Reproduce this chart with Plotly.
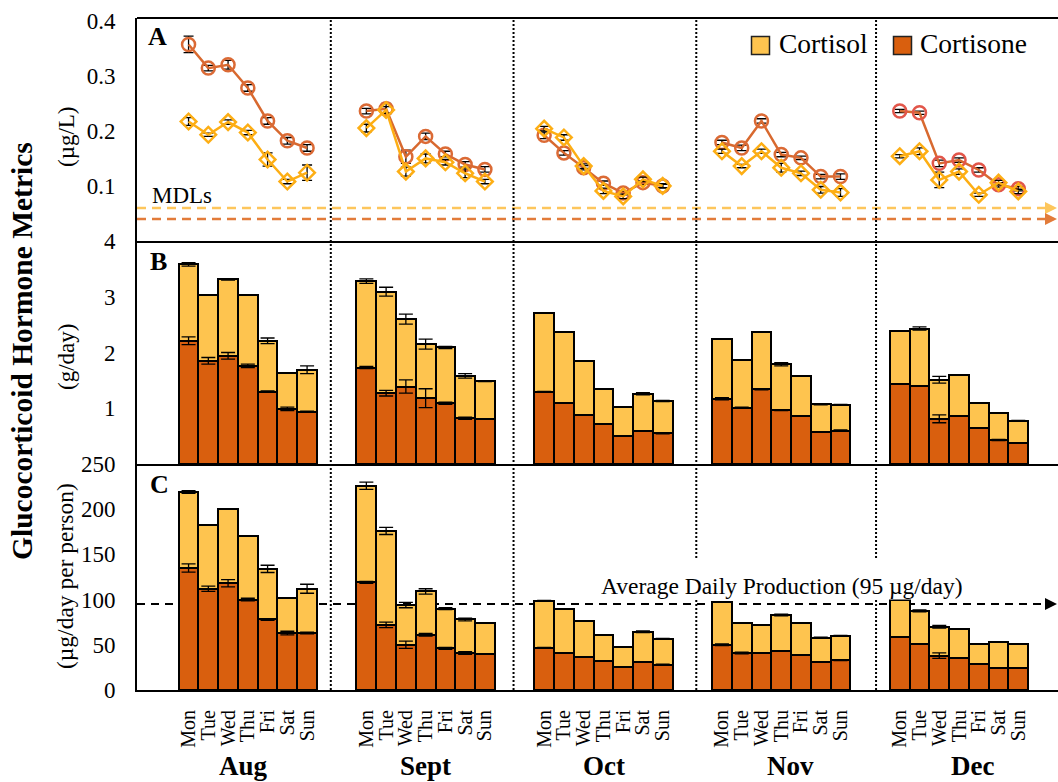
import plotly.graph_objects as go
from plotly.subplots import make_subplots

MONTHS = ["Aug", "Sept", "Oct", "Nov", "Dec"]
DAYS = ["Mon", "Tue", "Wed", "Thu", "Fri", "Sat", "Sun"]

# Panel A: concentrations (µg/L), one row per month, Mon..Sun
CORTISOL_UGL = [
    [0.217, 0.193, 0.216, 0.197, 0.148, 0.108, 0.124],
    [0.205, 0.238, 0.126, 0.150, 0.143, 0.123, 0.108],
    [0.204, 0.188, 0.136, 0.091, 0.081, 0.112, 0.100],
    [0.163, 0.136, 0.163, 0.133, 0.123, 0.093, 0.088],
    [0.154, 0.163, 0.111, 0.126, 0.084, 0.106, 0.090],
]
CORTISOL_UGL_ERR = [
    [0.007, 0.003, 0.004, 0.004, 0.012, 0.004, 0.014],
    [0.007, 0.006, 0.008, 0.008, 0.005, 0.008, 0.004],
    [0.004, 0.005, 0.004, 0.005, 0.004, 0.004, 0.003],
    [0.004, 0.003, 0.004, 0.008, 0.004, 0.006, 0.007],
    [0.003, 0.006, 0.014, 0.005, 0.003, 0.004, 0.004],
]
CORTISONE_UGL = [
    [0.357, 0.314, 0.320, 0.278, 0.218, 0.182, 0.169],
    [0.236, 0.240, 0.153, 0.190, 0.158, 0.139, 0.130],
    [0.192, 0.160, 0.133, 0.105, 0.087, 0.106, 0.100],
    [0.179, 0.169, 0.218, 0.157, 0.151, 0.117, 0.117],
    [0.236, 0.233, 0.141, 0.147, 0.129, 0.102, 0.095],
]
CORTISONE_UGL_ERR = [
    [0.015, 0.005, 0.008, 0.006, 0.006, 0.006, 0.006],
    [0.005, 0.010, 0.012, 0.006, 0.005, 0.005, 0.005],
    [0.006, 0.004, 0.004, 0.004, 0.003, 0.003, 0.004],
    [0.004, 0.005, 0.004, 0.004, 0.003, 0.004, 0.005],
    [0.003, 0.003, 0.006, 0.004, 0.004, 0.004, 0.004],
]
MDL_CORTISOL = 0.06
MDL_CORTISONE = 0.04

# Panel B: mass loads (g/day)
CORTISONE_GDAY = [
    [2.21, 1.85, 1.94, 1.76, 1.30, 0.99, 0.94],
    [1.73, 1.27, 1.39, 1.18, 1.09, 0.82, 0.80],
    [1.30, 1.09, 0.88, 0.72, 0.50, 0.60, 0.55],
    [1.17, 1.01, 1.34, 0.96, 0.86, 0.58, 0.60],
    [1.43, 1.40, 0.81, 0.86, 0.65, 0.43, 0.37],
]
CORTISOL_GDAY = [
    [1.37, 1.18, 1.37, 1.27, 0.91, 0.64, 0.75],
    [1.55, 1.82, 1.21, 0.97, 1.00, 0.76, 0.68],
    [1.41, 1.27, 0.97, 0.62, 0.52, 0.66, 0.58],
    [1.07, 0.86, 1.02, 0.83, 0.71, 0.49, 0.46],
    [0.96, 1.03, 0.70, 0.74, 0.44, 0.48, 0.41],
]
CORTISONE_GDAY_ERR = [
    [0.07, 0.06, 0.06, 0.03, 0.01, 0.03, 0.01],
    [0.02, 0.05, 0.12, 0.17, 0.02, 0.02, 0.00],
    [0.00, 0.00, 0.00, 0.00, 0.00, 0.00, 0.01],
    [0.02, 0.01, 0.01, 0.00, 0.00, 0.00, 0.01],
    [0.00, 0.00, 0.07, 0.00, 0.00, 0.01, 0.00],
]
TOTAL_GDAY_ERR = [
    [0.03, 0.00, 0.01, 0.00, 0.05, 0.00, 0.07],
    [0.04, 0.08, 0.09, 0.09, 0.02, 0.04, 0.00],
    [0.00, 0.00, 0.00, 0.00, 0.00, 0.02, 0.01],
    [0.00, 0.00, 0.00, 0.03, 0.00, 0.01, 0.01],
    [0.00, 0.03, 0.06, 0.00, 0.00, 0.00, 0.00],
]

# Panel C: per-capita loads (µg/day per person)
CORTISONE_PC = [
    [135, 112, 118, 100, 78, 63, 63],
    [119, 72, 50, 61, 46, 41, 40],
    [47, 41, 36, 32, 25, 31, 28],
    [50, 41, 41, 43, 39, 31, 33],
    [59, 50.5, 38, 35, 29, 24, 24],
]
CORTISOL_PC = [
    [84, 71, 82, 70, 56, 39, 49],
    [107, 104, 44, 48, 44, 37, 34.5],
    [52, 49, 40, 29, 23, 33.5, 28.5],
    [47, 33, 31, 40, 35, 27, 27],
    [41, 37, 32, 32.5, 21.5, 29, 26.5],
]
CORTISONE_PC_ERR = [
    [4.5, 3, 4, 1.5, 1, 2, 1],
    [1, 3, 4, 1.5, 1, 1.5, 0],
    [0, 0, 0, 0, 0, 0, 0.5],
    [1, 1, 0, 0, 0, 0, 0.5],
    [0, 0, 3, 0, 0, 0, 0],
]
TOTAL_PC_ERR = [
    [1.5, 0, 0, 0, 4, 0, 5],
    [4, 4, 3, 3, 1, 1.5, 0],
    [0, 0, 0, 0, 0, 1, 0.5],
    [0, 0, 0, 1, 0, 0.5, 0.5],
    [0, 1, 1.5, 0, 0, 0, 0],
]
AVG_PRODUCTION = 95  # µg/day

# ---- styling ----
FONT = "Liberation Serif"
C_CORTISOL = "#FEC44F"
C_CORTISONE = "#D95F0E"
L_CORTISOL = "#FDAE14"
L_CORTISONE = "#D8692F"
M_CORTISONE = ["#DB6A35"] * 4 + ["#E2564A"]
MDL_C1 = "#FDC65C"
MDL_C2 = "#E27B3A"

LEAD_SLOTS = 2       # empty slots before the first month
MONTH_SLOTS = 9      # 7 days + 2 spacer slots
X_RANGE = [-0.11, 46.51]
SEPARATORS = [9.7, 18.95, 28.2, 37.3]

# plot-area pixel box used for placing text
PL, PR, PT, PB = 137, 1058, 18, 690


def px(x):
    return (x - PL) / (PR - PL)


def py(y):
    return (PB - y) / (PB - PT)


def xpos(m, d):
    return LEAD_SLOTS + m * MONTH_SLOTS + d + 0.5


def flat(rows):
    return [v for r in rows for v in r]


XS = [xpos(m, d) for m in range(len(MONTHS)) for d in range(len(DAYS))]

fig = make_subplots(rows=3, cols=1, shared_xaxes=True, vertical_spacing=0)

# ---- Panel A: lines with markers, broken between months ----
def gapped(rows):
    out = []
    for r in rows:
        out.extend(r)
        out.append(None)
    return out

XS_GAP = []
for m in range(len(MONTHS)):
    XS_GAP.extend(xpos(m, d) for d in range(len(DAYS)))
    XS_GAP.append(None)

err_style = dict(type="data", color="black", thickness=1.3, width=5)

fig.add_trace(go.Scatter(
    x=XS_GAP, y=gapped(CORTISONE_UGL), mode="lines+markers",
    line=dict(color=L_CORTISONE, width=2.5),
    marker=dict(symbol="circle-open", size=13,
                color=[c for m in range(5) for c in [M_CORTISONE[m]] * 7 + [M_CORTISONE[m]]],
                line=dict(width=2.5)),
    error_y=dict(array=gapped(CORTISONE_UGL_ERR), **err_style),
    showlegend=False, connectgaps=False, hoverinfo="skip"), row=1, col=1)

fig.add_trace(go.Scatter(
    x=XS_GAP, y=gapped(CORTISOL_UGL), mode="lines+markers",
    line=dict(color=L_CORTISOL, width=2.5),
    marker=dict(symbol="diamond-open", size=12, color=L_CORTISOL,
                line=dict(width=2.5)),
    error_y=dict(array=gapped(CORTISOL_UGL_ERR), **err_style),
    showlegend=False, connectgaps=False, hoverinfo="skip"), row=1, col=1)

# ---- Panels B and C: stacked bars ----
bar_line = dict(color="black", width=2)
for row, base, top, base_err, top_err in [
    (2, CORTISONE_GDAY, CORTISOL_GDAY, CORTISONE_GDAY_ERR, TOTAL_GDAY_ERR),
    (3, CORTISONE_PC, CORTISOL_PC, CORTISONE_PC_ERR, TOTAL_PC_ERR),
]:
    b = flat(base)
    t = flat(top)
    fig.add_trace(go.Bar(x=XS, y=b, width=1, marker=dict(color=C_CORTISONE, line=bar_line),
                         showlegend=False, hoverinfo="skip"), row=row, col=1)
    fig.add_trace(go.Bar(x=XS, y=t, width=1, marker=dict(color=C_CORTISOL, line=bar_line),
                         showlegend=False, hoverinfo="skip"), row=row, col=1)
    totals = [bv + tv for bv, tv in zip(b, t)]
    for ys, es in [(b, flat(base_err)), (totals, flat(top_err))]:
        fig.add_trace(go.Scatter(
            x=XS, y=ys, mode="markers", marker=dict(size=1, color="rgba(0,0,0,0)"),
            error_y=dict(array=es, type="data", color="black", thickness=1.3, width=7),
            showlegend=False, hoverinfo="skip"), row=row, col=1)

fig.update_layout(barmode="stack", bargap=0)

# ---- axes ----
tickfont = dict(family=FONT, size=23, color="black")
axis_common = dict(showgrid=False, zeroline=False, showline=True, linecolor="black",
                   linewidth=2, ticks="")
for r in (1, 2, 3):
    fig.update_xaxes(range=X_RANGE, row=r, col=1, tickvals=XS, ticktext=DAYS * len(MONTHS),
                     tickangle=-90, tickfont=dict(family=FONT, size=20, color="black"),
                     showticklabels=(r == 3), ticklabelstandoff=10, **axis_common)

fig.update_yaxes(range=[0, 0.405], tickvals=[0.1, 0.2, 0.3, 0.4], ticktext=["0.1", "0.2", "0.3", "0.4"],
                 tickfont=tickfont, ticklabelstandoff=15, row=1, col=1, **axis_common)
fig.update_yaxes(range=[0, 4], tickvals=[1, 2, 3, 4], tickfont=tickfont, ticklabelstandoff=15,
                 row=2, col=1, **axis_common)
fig.update_yaxes(range=[0, 250], tickvals=[0, 50, 100, 150, 200, 250], tickfont=tickfont,
                 ticklabelstandoff=15, row=3, col=1, **axis_common)

hA = (241 - 18) / (PB - PT)
hB = (464 - 241) / (PB - PT)
fig.update_layout(
    yaxis=dict(domain=[1 - hA, 1]),
    yaxis2=dict(domain=[1 - hA - hB, 1 - hA]),
    yaxis3=dict(domain=[0, 1 - hA - hB]),
)

shapes = []
# top frame line
shapes.append(dict(type="line", xref="paper", yref="paper", x0=0, x1=1, y0=1, y1=1,
                   line=dict(color="black", width=2)))
# month separators
for sx in SEPARATORS:
    shapes.append(dict(type="line", xref="x", yref="paper", x0=sx, x1=sx, y0=0, y1=1,
                       line=dict(color="black", width=2, dash="2px,2px")))
# detection limits
for val, col in [(MDL_CORTISOL, MDL_C1), (MDL_CORTISONE, MDL_C2)]:
    shapes.append(dict(type="line", xref="x domain", yref="y", x0=0, x1=0.995, y0=val, y1=val,
                       line=dict(color=col, width=2.5, dash="9px,6px"), layer="below"))
# average daily production
shapes.append(dict(type="line", xref="x3 domain", yref="y3", x0=0, x1=0.99,
                   y0=AVG_PRODUCTION, y1=AVG_PRODUCTION,
                   line=dict(color="black", width=2, dash="8px,6px"), layer="below"))
# legend swatches
for x0, col in [(751.5, C_CORTISOL), (893.5, C_CORTISONE)]:
    shapes.append(dict(type="rect", xref="paper", yref="paper",
                       x0=px(x0), x1=px(x0 + 18), y0=py(54.5), y1=py(36.5),
                       fillcolor=col, line=dict(color="#222222", width=1.5)))
fig.update_layout(shapes=shapes)

ann = []
def text(x, y, s, size, bold=False, xanchor="center", angle=0, **kw):
    ann.append(dict(xref="paper", yref="paper", x=px(x), y=py(y), text=f"<b>{s}</b>" if bold else s,
                    showarrow=False, xanchor=xanchor, yanchor="middle", textangle=angle,
                    font=dict(family=FONT, size=size, color="black"), **kw))

text(22, 351, "Glucocorticoid Hormone Metrics", 29.5, bold=True, angle=-90)
text(66, 137, "(µg/L)", 23, angle=-90)
text(66, 357, "(g/day)", 23, angle=-90)
text(65, 576, "(µg/day per person)", 23.5, angle=-90)
text(146, 36, "A", 26, bold=True, xanchor="left")
text(148, 261, "B", 26, bold=True, xanchor="left")
text(148, 484, "C", 26, bold=True, xanchor="left")
text(150, 196, "MDLs", 23, xanchor="left")
text(777, 44, "Cortisol", 27.5, xanchor="left")
text(918, 44, "Cortisone", 27.5, xanchor="left")
for name, cx in zip(MONTHS, [243, 425, 603.5, 790.5, 972]):
    text(cx, 766, name, 27, bold=True)

# label box that interrupts the separators
ann.append(dict(xref="paper", yref="paper", x=px(782), y=py(578.5),
                text="Average Daily Production (95 µg/day)", showarrow=False,
                xanchor="center", yanchor="middle", height=40, valign="bottom",
                bgcolor="white", borderpad=0,
                font=dict(family=FONT, size=23.5, color="black")))

# arrowheads at the right end of the reference lines (MDL heads run off the edge)
for yref, xtip, val, col in [("y", 1.005, MDL_CORTISOL, MDL_C1), ("y", 1.005, MDL_CORTISONE, MDL_C2),
                             ("y3", 0.9995, AVG_PRODUCTION, "black")]:
    ann.append(dict(xref="paper", yref=yref, x=xtip, y=val, ax=-12, ay=0, text="",
                    showarrow=True, arrowhead=2, arrowsize=1.2, arrowwidth=2,
                    arrowcolor=col, standoff=0))
fig.update_layout(annotations=ann)

fig.update_layout(
    width=1058, height=782, autosize=False,
    margin=dict(l=PL, r=1058 - PR, t=PT, b=782 - PB, pad=0),
    paper_bgcolor="white", plot_bgcolor="white",
    font=dict(family=FONT, color="black"),
    template="none",
)

fig.write_html("out.html")
